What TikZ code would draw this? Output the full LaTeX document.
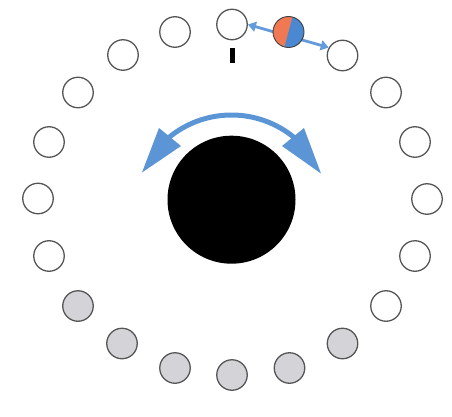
\documentclass[tikz,border=0pt]{standalone}
\usetikzlibrary{arrows.meta,calc}
\definecolor{ringborder}{RGB}{85,85,85}
\definecolor{greyfill}{RGB}{212,211,216}
\definecolor{arcblue}{RGB}{91,149,213}
\definecolor{smallblue}{RGB}{100,155,218}
\definecolor{ballorange}{RGB}{240,120,82}
\definecolor{ballblue}{RGB}{74,136,210}
\begin{document}
\begin{tikzpicture}[x=1pt,y=-1pt,
  seat/.style={circle,draw=ringborder,line width=1.3pt,minimum size=30.5pt,inner sep=0pt,fill=white},
  greyseat/.style={seat,fill=greyfill},
  arcline/.style={draw=arcblue,line width=5pt},
  archead/.style={fill=arcblue},
  smallarrow/.style={draw=smallblue,line width=2.8pt,{Triangle[length=8pt,width=10pt]}-{Triangle[length=8pt,width=10pt]}}]
\useasboundingbox (0,0) rectangle (452,417);
% ring of seats
\node[seat] (c0) at (232,24.5) {};
\node[seat] (c2) at (342.5,55.5) {};
\node[seat] (c3) at (386,92.5) {};
\node[seat] (c4) at (415,142) {};
\node[seat] (c5) at (427,199) {};
\node[seat] (c6) at (415,256) {};
\node[seat] (c7) at (386,306) {};
\node[greyseat] (c8) at (342.5,343.5) {};
\node[greyseat] (c9) at (289.5,368) {};
\node[greyseat] (c10) at (232,375) {};
\node[greyseat] (c11) at (175,368) {};
\node[greyseat] (c12) at (122,343.5) {};
\node[greyseat] (c13) at (78,306) {};
\node[seat] (c14) at (49,256) {};
\node[seat] (c15) at (38,198.5) {};
\node[seat] (c16) at (49,142) {};
\node[seat] (c17) at (78,92.5) {};
\node[seat] (c18) at (123,55) {};
\node[seat] (c19) at (175,32) {};
% tick mark
\fill[black] (230,48) rectangle (234.5,63);
% central disc
\node[circle,fill=black,minimum size=128pt,inner sep=0pt] (hub) at (231.5,199.7) {};
% rotation arrow
\draw[arcline] plot[domain=228:312,samples=60,smooth] ({231.5+98.4*cos(\x)},{213.4+98.4*sin(\x)});
\fill[archead] (142,172.5) -- (159,128) -- (181,146) -- cycle;
\fill[archead] (321,173.5) -- (304,128) -- (282,146) -- cycle;
% small double arrow
\draw[smallarrow] (c0.east) -- (c2.150);
% ball
\coordinate (ball) at (288.5,32);
\begin{scope}
  \clip (ball) circle[radius=15.5];
  \fill[ballorange] ($(ball)+(-20,-20)$) rectangle ($(ball)+(20,20)$);
  \fill[ballblue] ($(ball)+(-75:-20)$) -- ($(ball)+(-75:20)$) -- ++(30,0) -- ++(0,60) -- cycle;
\end{scope}
\draw[black!75,line width=0.9pt] (ball) circle[radius=15.5];
\end{tikzpicture}
\end{document}
